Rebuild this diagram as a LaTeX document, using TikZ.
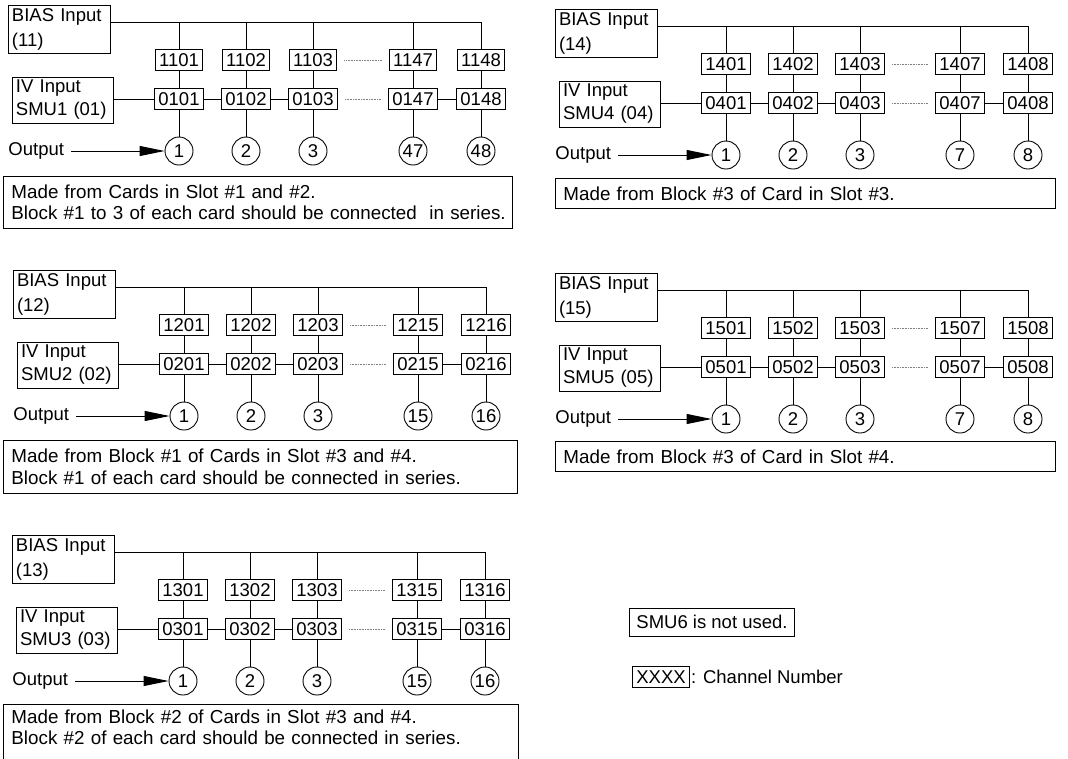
\documentclass[tikz,border=0pt]{standalone}
\usepackage{fontspec}
\setmainfont{Liberation Sans}
\usetikzlibrary{arrows.meta}
\tikzset{
  every node/.style={font=\fontsize{18.5}{22}\selectfont, text=black},
  lbox/.style={draw, align=left, inner xsep=4pt, inner ysep=0pt},
  chan/.style={draw, inner xsep=4pt, inner ysep=1pt, minimum height=21.5pt},
  portnode/.style={draw, circle, minimum size=28pt, inner sep=0pt},
  dotline/.style={densely dotted, gray, line width=0.6pt, shorten <=7pt, shorten >=7pt},
  capbox/.style={align=left, inner xsep=8pt, inner ysep=0pt, anchor=north west, font=\fontsize{18.8}{21.5}\selectfont},
  outarrow/.style={-{Triangle[length=25pt,width=10pt]}, shorten <=7pt},
}
\newcommand{\panel}[5]{%
  \begin{scope}[shift={#2}]
    \node[lbox, minimum width=102pt, minimum height=48pt, text width=94pt,
          font=\fontsize{18.5}{25}\selectfont] (#1-bias) at (59,29) {BIAS Input\\(#3)};
    \node[lbox, minimum width=101pt, minimum height=46pt, text width=93pt,
          font=\fontsize{18.5}{23}\selectfont] (#1-iv) at (62.5,100) {IV Input\\#4};
    \foreach \i/\x/\t/\b/\o in {#5} {
      \node[chan] (#1-t\i) at (\x,60) {\t};
      \node[chan] (#1-b\i) at (\x,99) {\b};
      \node[portnode] (#1-o\i) at (\x,151) {\o};
      \draw (#1-t\i) -- (#1-b\i);
      \draw (#1-b\i) -- (#1-o\i);
    }
    \coordinate (#1-bl) at ([yshift=-18pt]#1-bias.north east);
    \draw (#1-bl) -| (#1-t5.north);
    \foreach \i in {1,...,4} \draw (#1-t\i.north) -- (#1-t\i.north |- #1-bl);
    \draw (#1-iv.east |- #1-b1.west) -- (#1-b1.west);
    \draw (#1-b1) -- (#1-b2);
    \draw (#1-b2) -- (#1-b3);
    \draw[dotline] (#1-b3) -- (#1-b4);
    \draw (#1-b4) -- (#1-b5);
    \draw[dotline] (#1-t3) -- (#1-t4);
    \node[anchor=west, inner sep=0pt] (#1-out) at (8,151) {Output};
    \draw[outarrow] (#1-out) -- (#1-o1);
  \end{scope}}
\begin{document}
\begin{tikzpicture}[x=1pt, y=-1pt, line width=0.9pt]
  \useasboundingbox[fill=white] (0,0) rectangle (1068,758);

  \panel{p1}{(0,0)}{11}{SMU1 (01)}{1/179/1101/0101/1, 2/246/1102/0102/2, 3/313/1103/0103/3, 4/413/1147/0147/47, 5/481/1148/0148/48}
  \panel{p2}{(547,4)}{14}{SMU4 (04)}{1/179/1401/0401/1, 2/246/1402/0402/2, 3/313/1403/0403/3, 4/413/1407/0407/7, 5/481/1408/0408/8}
  \panel{p3}{(5,265)}{12}{SMU2 (02)}{1/179/1201/0201/1, 2/246/1202/0202/2, 3/313/1203/0203/3, 4/413/1215/0215/15, 5/481/1216/0216/16}
  \panel{p4}{(547,268)}{15}{SMU5 (05)}{1/179/1501/0501/1, 2/246/1502/0502/2, 3/313/1503/0503/3, 4/413/1507/0507/7, 5/481/1508/0508/8}
  \panel{p5}{(4,530)}{13}{SMU3 (03)}{1/179/1301/0301/1, 2/246/1302/0302/2, 3/313/1303/0303/3, 4/413/1315/0315/15, 5/481/1316/0316/16}

  % captions
  \node[capbox, draw, minimum width=509pt, minimum height=52pt, text width=493pt] (p1-cap) at (3,176)
    {\mbox{Made from Cards in Slot \#1 and \#2.}\\\mbox{Block \#1 to 3 of each card should be connected\ \ in series.}};
  \node[capbox, draw, minimum width=500pt, minimum height=30pt, text width=484pt] (p2-cap) at (555,178)
    {\mbox{Made from Block \#3 of Card in Slot \#3.}};
  \node[capbox, draw, minimum width=514pt, minimum height=53pt, text width=498pt] (p3-cap) at (3,440)
    {\mbox{Made from Block \#1 of Cards in Slot \#3 and \#4.}\\\mbox{Block \#1 of each card should be connected in series.}};
  \node[capbox, draw, minimum width=500pt, minimum height=30pt, text width=484pt] (p4-cap) at (555,441)
    {\mbox{Made from Block \#3 of Card in Slot \#4.}};
  \node[capbox, minimum width=515pt, minimum height=46pt, text width=499pt] (p5-cap) at (3,704)
    {\mbox{Made from Block \#2 of Cards in Slot \#3 and \#4.}\\\mbox{Block \#2 of each card should be connected in series.}};
  \draw (p5-cap.south west) ++(0,12) |- (p5-cap.north east) -- ++(0,67);

  % notes
  \node[draw, inner xsep=7pt, minimum height=28pt, inner ysep=0pt] (smu6) at (712,622) {SMU6 is not used.};
  \node[chan, inner xsep=3.5pt] (legend) at (661,677) {XXXX};
  \node[anchor=west, inner sep=0pt] (legendtext) at ([xshift=1pt]legend.east) {: Channel Number};
\end{tikzpicture}
\end{document}
